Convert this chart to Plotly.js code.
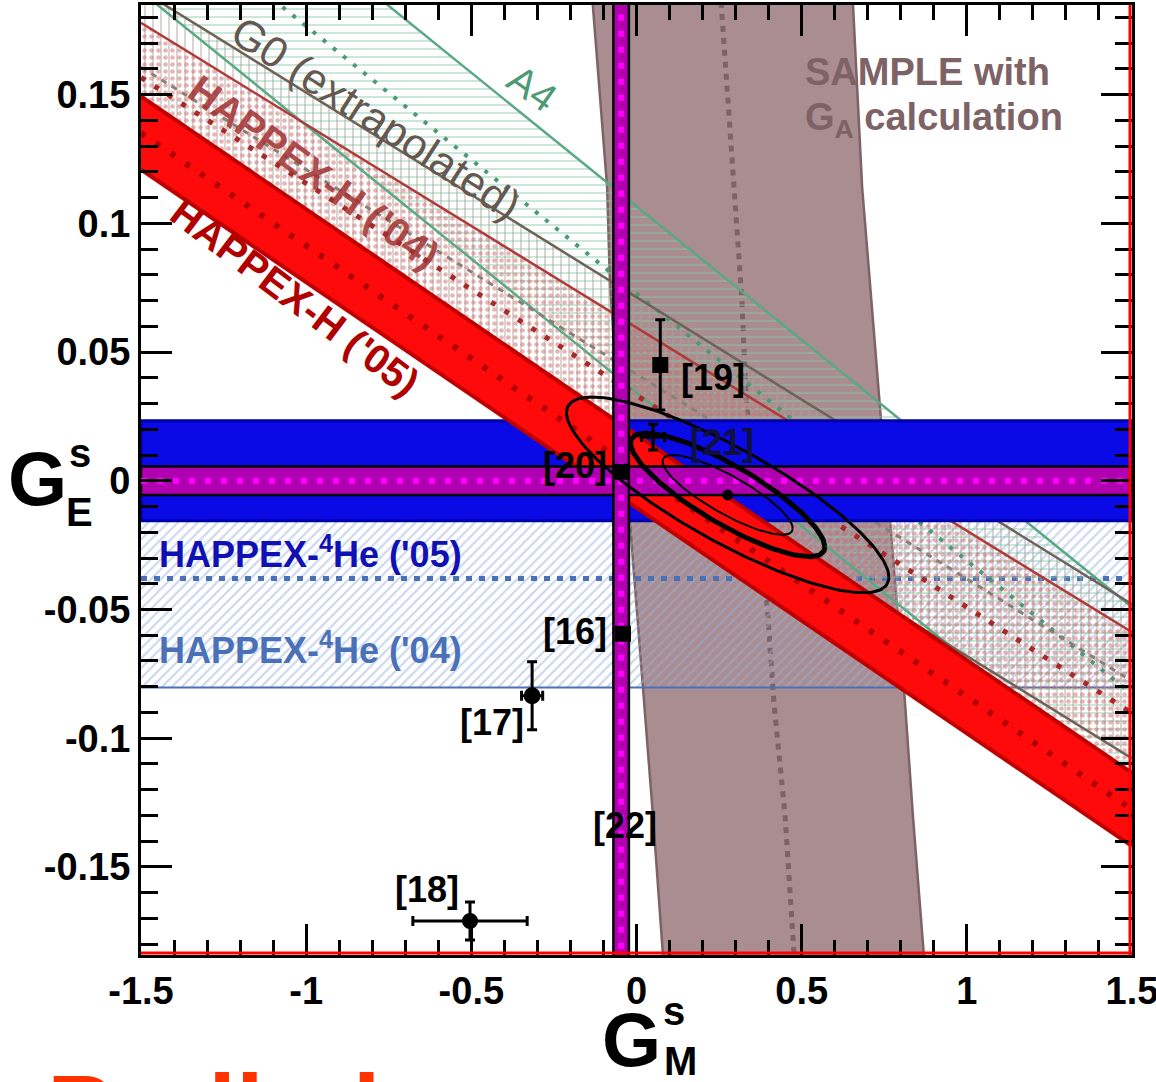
<!DOCTYPE html>
<html><head><meta charset="utf-8">
<script src="https://cdn.plot.ly/plotly-3.0.1.min.js"></script>
<style>html,body{margin:0;padding:0;background:#fff}</style>
</head><body>
<div id="chart" style="width:1156px;height:1082px"></div>
<script>
// ---------- axis ticks ----------
const xTickVals = [-1.5, -1, -0.5, 0, 0.5, 1, 1.5];
const xTickText = ['-1.5', '-1', '-0.5', '0', '0.5', '1', '1.5'];
const yTickVals = [-0.15, -0.1, -0.05, 0, 0.05, 0.1, 0.15];
const yTickText = ['-0.15', '-0.1', '-0.05', '0', '0.05', '0.1', '0.15'];
const xRange = [-1.5, 1.5];
const yRange = [-0.1842, 0.1848];

// ---------- diagonal bands: G_E = a + b*G_M ----------
const bandNames   = ['A4', 'G0 (extrapolated)', "HAPPEX-H ('04)", "HAPPEX-H ('05)"];
const bandUpperA  = [0.1066, 0.0713, 0.0595, 0.0179];
const bandUpperB  = [-0.1038, -0.0795, -0.0789, -0.0876];
const bandCenterA = [0.0728, 0.0414, 0.0332, 0.0037];
const bandCenterB = [-0.1038, -0.0795, -0.0823, -0.0876];
const bandLowerA  = [0.0343, 0.0114, 0.0069, -0.0105];
const bandLowerB  = [-0.1038, -0.0795, -0.0857, -0.0876];

// ---------- horizontal / vertical bands ----------
const he05Range  = [-0.0155, 0.0233];   // HAPPEX-4He ('05)
const he04Range  = [-0.0803, 0.0040];   // HAPPEX-4He ('04)
const he04Center = -0.038;
const lattH = [-0.0055, 0.0055];        // horizontal magenta band
const lattV = [-0.070, -0.023];         // vertical magenta band [22]

// ---------- SAMPLE with G_A calculation ----------
const sampleLeftY  = [0.186, 0.1363, 0.1141, 0.0753, 0.0314, 0.0043, -0.0159, -0.0811, -0.1304, -0.186];
const sampleLeftX  = [-0.133, -0.104, -0.089, -0.080, -0.056, -0.038, -0.020, 0.020, 0.050, 0.081];
const sampleRightY = [0.186, 0.1141, 0.0575, 0.0237, -0.0151, -0.0811, -0.1304, -0.186];
const sampleRightX = [0.655, 0.683, 0.719, 0.740, 0.767, 0.810, 0.837, 0.871];
const sampleMidY   = [0.186, 0.1219, 0.0703, 0.0314, -0.015, -0.0474, -0.0862, -0.1304, -0.186];
const sampleMidX   = [0.256, 0.292, 0.319, 0.332, 0.365, 0.395, 0.416, 0.450, 0.478];

// ---------- data points ----------
const ptLabels = ['[16]', '[17]', '[18]', '[19]', '[20]', '[21]'];
const ptX      = [-0.041, -0.316, -0.504, 0.072, -0.045, 0.05];
const ptY      = [-0.0594, -0.0835, -0.171, 0.045, 0.0035, 0.017];
const ptXErr   = [0, 0.032, 0.173, 0, 0, 0.035];
const ptYErr   = [0, 0.0132, 0.0074, 0.0175, 0, 0.005];
const ptSymbol = ['square', 'circle', 'circle', 'square', 'square', 'cross-thin'];
const ptSize   = [13, 14, 13, 13, 13, 10];
const lblX     = [-0.186, -0.438, -0.634, 0.232, -0.186, 0.259, -0.035];
const lblY     = [-0.0586, -0.094, -0.1588, 0.040, 0.0058, 0.0148, -0.134];
const lblText  = ['[16]', '[17]', '[18]', '[19]', '[20]', '[21]', '[22]'];

// ---------- combined fit contours ----------
const fitCenterX = 0.276;
const fitCenterY = -0.0055;
const fitSigmaX  = [0.197, 0.294, 0.488];
const fitSigmaY  = [0.0155, 0.024, 0.038];
const fitRho     = -0.84;
const fitWidth   = [2, 5, 3];

// =====================================================
const traces = [];
const line = (a, b, x) => a + b * x;
const X0 = xRange[0], X1 = xRange[1];

function bandPoly(i) {
  return {
    x: [X0, X1, X1, X0, X0],
    y: [line(bandUpperA[i], bandUpperB[i], X0), line(bandUpperA[i], bandUpperB[i], X1),
        line(bandLowerA[i], bandLowerB[i], X1), line(bandLowerA[i], bandLowerB[i], X0),
        line(bandUpperA[i], bandUpperB[i], X0)]
  };
}
function bandLine(a, b, i, style) {
  return Object.assign({
    type: 'scatter', mode: 'lines', hoverinfo: 'skip',
    x: [X0, X1], y: [line(a[i], b[i], X0), line(a[i], b[i], X1)]
  }, style);
}
function rect(x0, x1, y0, y1) { return { x: [x0, x1, x1, x0, x0], y: [y0, y0, y1, y1, y0] }; }

// SAMPLE band
traces.push({
  type: 'scatter', mode: 'lines', hoverinfo: 'skip', fill: 'toself', fillcolor: '#a98d90',
  x: sampleLeftX.concat(sampleRightX.slice().reverse()),
  y: sampleLeftY.concat(sampleRightY.slice().reverse()),
  line: { width: 0 }
});
traces.push({ type: 'scatter', mode: 'lines', hoverinfo: 'skip', x: sampleLeftX, y: sampleLeftY, line: { color: '#7d6266', width: 2.5 } });
traces.push({ type: 'scatter', mode: 'lines', hoverinfo: 'skip', x: sampleRightX, y: sampleRightY, line: { color: '#7d6266', width: 2.5 } });
traces.push({ type: 'scatter', mode: 'lines', hoverinfo: 'skip', x: sampleMidX, y: sampleMidY, line: { color: '#7d6266', width: 5, dash: '6px,6px' } });

// HAPPEX-4He ('04) hatched
const he04 = rect(X0, X1, he04Range[0], he04Range[1]);
traces.push({
  type: 'scatter', mode: 'lines', hoverinfo: 'skip', x: he04.x, y: he04.y, fill: 'toself',
  fillcolor: 'rgba(0,0,0,0)', line: { width: 0 },
  fillpattern: { shape: '/', fgcolor: '#96afe0', bgcolor: 'rgba(0,0,0,0)', size: 7, solidity: 0.32, fillmode: 'overlay' }
});
traces.push({ type: 'scatter', mode: 'lines', hoverinfo: 'skip', x: [X0, X1], y: [he04Center, he04Center], line: { color: '#4a70b8', width: 5, dash: '6px,7px' } });
traces.push({ type: 'scatter', mode: 'lines', hoverinfo: 'skip', x: [X0, X1], y: [he04Range[0], he04Range[0]], line: { color: '#4a70b8', width: 2 } });

// hatched diagonal bands
const patterns = [
  { shape: '-', fgcolor: '#86c8a6', size: 8, solidity: 0.22 },
  { shape: '|', fgcolor: '#aaa098', size: 8, solidity: 0.22 },
  { shape: '.', fgcolor: '#d26c6c', size: 7, solidity: 0.35 }
];
for (let i = 0; i < 3; i++) {
  const p = bandPoly(i);
  traces.push({
    type: 'scatter', mode: 'lines', hoverinfo: 'skip', x: p.x, y: p.y, fill: 'toself',
    fillcolor: 'rgba(0,0,0,0)', line: { width: 0 },
    fillpattern: Object.assign({ bgcolor: 'rgba(0,0,0,0)', fillmode: 'overlay' }, patterns[i])
  });
}
const edgeColors = ['#5aa985', '#6e6259', '#b03a3a'];
const midStyles = [
  { color: '#4c9a73', width: 4, dash: '4px,9px' },
  { color: '#8a8078', width: 3, dash: '6px,6px' },
  { color: '#a52a2a', width: 5, dash: '5px,11px' }
];
for (let i = 0; i < 3; i++) {
  traces.push(bandLine(bandUpperA, bandUpperB, i, { line: { color: edgeColors[i], width: 2.5 } }));
  traces.push(bandLine(bandLowerA, bandLowerB, i, { line: { color: edgeColors[i], width: 2.5 } }));
  traces.push(bandLine(bandCenterA, bandCenterB, i, { line: midStyles[i] }));
}

// HAPPEX-4He ('05) solid blue
const he05 = rect(X0, X1, he05Range[0], he05Range[1]);
traces.push({ type: 'scatter', mode: 'lines', hoverinfo: 'skip', x: he05.x, y: he05.y, fill: 'toself', fillcolor: '#0a0ae6', line: { color: '#0000a8', width: 3 } });

// HAPPEX-H ('05) solid red
const h05 = bandPoly(3);
traces.push({ type: 'scatter', mode: 'lines', hoverinfo: 'skip', x: h05.x, y: h05.y, fill: 'toself', fillcolor: '#ff0a0a', line: { width: 0 } });
traces.push(bandLine(bandUpperA, bandUpperB, 3, { line: { color: '#c00000', width: 4 } }));
traces.push(bandLine(bandLowerA, bandLowerB, 3, { line: { color: '#c00000', width: 4 } }));
traces.push(bandLine(bandCenterA, bandCenterB, 3, { line: { color: '#b00000', width: 6, dash: '5px,13px' } }));

// magenta bands
const mh = rect(X0, X1, lattH[0], lattH[1]);
traces.push({ type: 'scatter', mode: 'lines', hoverinfo: 'skip', x: mh.x, y: mh.y, fill: 'toself', fillcolor: '#b000b0', line: { color: '#000000', width: 2.5 } });
traces.push({ type: 'scatter', mode: 'lines', hoverinfo: 'skip', x: [X0, X1], y: [(lattH[0] + lattH[1]) / 2, (lattH[0] + lattH[1]) / 2], line: { color: '#ff00ff', width: 6, dash: '6px,10px' } });
const mv = rect(lattV[0], lattV[1], yRange[0] - 0.01, yRange[1] + 0.01);
traces.push({ type: 'scatter', mode: 'lines', hoverinfo: 'skip', x: mv.x, y: mv.y, fill: 'toself', fillcolor: '#b000b0', line: { color: '#000000', width: 2.5 } });
traces.push({ type: 'scatter', mode: 'lines', hoverinfo: 'skip', x: [(lattV[0] + lattV[1]) / 2, (lattV[0] + lattV[1]) / 2], y: [yRange[0] - 0.01, yRange[1] + 0.01], line: { color: '#ff00ff', width: 6, dash: '6px,10px' } });

// fit contours
for (let k = 0; k < fitSigmaX.length; k++) {
  const ex = [], ey = [];
  for (let j = 0; j <= 180; j++) {
    const t = 2 * Math.PI * j / 180;
    ex.push(fitCenterX + fitSigmaX[k] * Math.cos(t));
    ey.push(fitCenterY + fitSigmaY[k] * (fitRho * Math.cos(t) + Math.sqrt(1 - fitRho * fitRho) * Math.sin(t)));
  }
  traces.push({ type: 'scatter', mode: 'lines', hoverinfo: 'skip', x: ex, y: ey, line: { color: '#000', width: fitWidth[k] } });
}
traces.push({ type: 'scatter', mode: 'markers', hoverinfo: 'skip', x: [fitCenterX], y: [fitCenterY], marker: { color: '#000', size: 11, opacity: 1 } });

// points
traces.push({
  type: 'scatter', mode: 'markers', hoverinfo: 'skip', x: ptX, y: ptY,
  marker: { symbol: ptSymbol, size: ptSize, color: '#000', opacity: 1, line: { color: '#000', width: 3 } },
  error_x: { type: 'data', array: ptXErr, color: '#000', thickness: 3, width: 5 },
  error_y: { type: 'data', array: ptYErr, color: '#000', thickness: 3, width: 5 }
});

// ---------- annotations ----------
const F = 'Liberation Sans, Arial, sans-serif';
const ann = [];
for (let i = 0; i < lblText.length; i++) {
  ann.push({ x: lblX[i], y: lblY[i], xanchor: 'center', yanchor: 'middle', text: lblText[i], showarrow: false, font: { family: F, size: 36, color: i === 5 ? '#101040' : '#000', weight: 'bold' } });
}
const bandLblX = [-0.316, -0.788, -0.976, -1.034];
const bandLblY = [0.1526, 0.141, 0.120, 0.0714];
const bandLblAng = [35, 33, 36, 37];
const bandLblCol = ['#4c9a73', '#645850', 'rgba(160,48,48,0.85)', '#b00000'];
const bandLblW = ['normal', 'normal', 'bold', 'bold'];
const bandLblS = [40, 43, 40, 40];
for (let i = 0; i < 4; i++) {
  ann.push({ x: bandLblX[i], y: bandLblY[i], xanchor: 'center', yanchor: 'middle', text: bandNames[i], textangle: bandLblAng[i], showarrow: false, font: { family: F, size: bandLblS[i], color: bandLblCol[i], weight: bandLblW[i] } });
}
ann.push({ x: 0.504, y: 0.1588, xanchor: 'left', yanchor: 'middle', text: 'SAMPLE with', showarrow: false, font: { family: F, size: 38, color: '#7d6266', weight: 'bold' } });
ann.push({ x: 0.504, y: 0.140, xanchor: 'left', yanchor: 'middle', text: 'G<sub>A</sub> calculation', showarrow: false, font: { family: F, size: 38, color: '#7d6266', weight: 'bold' } });
ann.push({ x: -1.452, y: -0.0276, xanchor: 'left', yanchor: 'middle', text: "HAPPEX-<sup>4</sup>He ('05)", showarrow: false, font: { family: F, size: 36, color: '#1010b4', weight: 'bold' } });
ann.push({ x: -1.452, y: -0.0648, xanchor: 'left', yanchor: 'middle', text: "HAPPEX-<sup>4</sup>He ('04)", showarrow: false, font: { family: F, size: 36, color: '#4a70b8', weight: 'bold' } });
// axis titles
const P = (x, y, t, s, ax, ay) => ({ xref: 'paper', yref: 'paper', x: x, y: y, text: t, showarrow: false, xanchor: ax || 'center', yanchor: ay || 'middle', font: { family: F, size: s, color: '#000', weight: 'bold' } });
ann.push(P(-0.104, 0.502, 'G', 76));
ann.push(P(-0.062, 0.528, 's', 40));
ann.push(P(-0.062, 0.466, 'E', 40));
ann.push(P(0.495, -0.089, 'G', 76));
ann.push(P(0.538, -0.059, 's', 40));
ann.push(P(0.544, -0.112, 'M', 40));
const prelim = P(-0.097, -0.1025, 'Preliminary', 100, 'left', 'top');
prelim.font.color = '#ff3300';
ann.push(prelim);

const axisCommon = {
  showgrid: false, zeroline: false, showline: true, linecolor: '#000', linewidth: 3, mirror: 'allticks',
  ticks: 'inside', ticklen: 31, tickwidth: 3, tickcolor: '#000', tickmode: 'array', ticklabeloverflow: 'allow',
  tickfont: { family: F, size: 38, color: '#000', weight: 'bold' }, fixedrange: true
};
const layout = {
  width: 1156, height: 1082, margin: { l: 141, r: 24, t: 5, b: 127 },
  paper_bgcolor: '#fff', plot_bgcolor: '#fff', showlegend: false, hovermode: false,
  xaxis: Object.assign({}, axisCommon, { range: xRange, tickvals: xTickVals, ticktext: xTickText,
    minor: { tickmode: 'linear', tick0: 0, dtick: 0.1, ticks: 'inside', ticklen: 15, tickwidth: 3, tickcolor: '#000' } }),
  yaxis: Object.assign({}, axisCommon, { range: yRange, tickvals: yTickVals, ticktext: yTickText,
    minor: { tickmode: 'linear', tick0: 0, dtick: 0.01, ticks: 'inside', ticklen: 17, tickwidth: 3, tickcolor: '#000' } }),
  annotations: ann,
  shapes: [
    { type: 'line', xref: 'paper', yref: 'paper', x0: 0, x1: 1, y0: 0.002, y1: 0.002, line: { color: '#ff0000', width: 3 } },
    { type: 'line', xref: 'paper', yref: 'paper', x0: 0.998, x1: 0.998, y0: 0, y1: 1, line: { color: '#ff0000', width: 3 } }
  ]
};
Plotly.newPlot('chart', traces, layout, { staticPlot: true, displayModeBar: false });
</script>
</body></html>
